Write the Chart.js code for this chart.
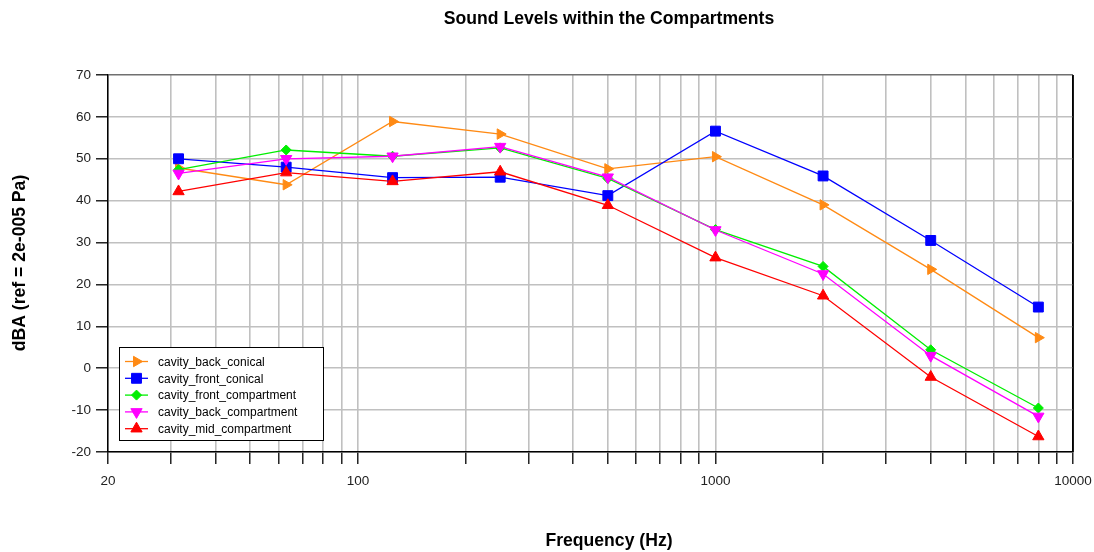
<!DOCTYPE html>
<html>
<head>
<meta charset="utf-8">
<script src="https://cdn.jsdelivr.net/npm/chart.js@4/dist/chart.umd.min.js"></script>
<style>
  body { margin: 0; background: #fff; }
  #wrap { width: 1094px; height: 552px; }
</style>
</head>
<body>
<div id="wrap"><canvas id="chart" width="1094" height="552"></canvas></div>
<script>
// --- Data ---
const freqs = [31.5, 63, 125, 250, 500, 1000, 2000, 4000, 8000];
const backConical      = [47.8, 43.8, 58.9, 55.9, 47.6, 50.5, 39.0, 23.6, 7.3];
const frontConical     = [50.0, 48.0, 45.5, 45.6, 41.2, 56.6, 45.9, 30.5, 14.6];
const frontCompartment = [47.4, 52.1, 50.6, 52.6, 45.3, 33.1, 24.3, 4.4, -9.5];
const backCompartment  = [46.5, 50.0, 50.6, 52.9, 45.6, 33.0, 22.5, 3.0, -11.5];
const midCompartment   = [42.2, 46.7, 44.6, 46.9, 38.9, 26.4, 17.3, -2.1, -16.3];

const seriesNames = ['cavity_back_conical', 'cavity_front_conical', 'cavity_front_compartment',
                     'cavity_back_compartment', 'cavity_mid_compartment'];
const xTickLabels = [20, 100, 1000, 10000];

const FONT = '"Liberation Sans", Arial, sans-serif';

// --- Series styles ---
const styles = [
    { color: '#ff8a14', pointStyle: 'triangle', rotation: 90,  radius: 6 },
    { color: '#0000ff', pointStyle: 'rect',     rotation: 0,   radius: 7 },
    { color: '#00ee00', pointStyle: 'rectRot',  rotation: 0,   radius: 5 },
    { color: '#ff00ff', pointStyle: 'triangle', rotation: 180, radius: 6.5 },
    { color: '#ff0000', pointStyle: 'triangle', rotation: 0,   radius: 6.5 }
];
const seriesValues = [backConical, frontConical, frontCompartment, backCompartment, midCompartment];

const datasets = seriesValues.map((vals, i) => ({
    label: seriesNames[i],
    data: vals.map((v, j) => ({ x: freqs[j], y: v })),
    borderColor: styles[i].color,
    backgroundColor: styles[i].color,
    borderWidth: 1.3,
    pointStyle: styles[i].pointStyle,
    rotation: styles[i].rotation,
    pointRadius: styles[i].radius,
    pointBorderWidth: 1,
    tension: 0,
    order: seriesValues.length - i
}));

// log grid values 20..10000 (1-2-3...9 per decade)
function logGrid(min, max) {
    const out = [];
    for (let d = 1; d <= 10000; d *= 10) {
        for (let m = 1; m <= 9; m++) {
            const v = m * d;
            if (v >= min && v <= max) out.push(v);
        }
    }
    return out;
}

// --- Plugins: titles, frame, legend ---
const decorations = {
    id: 'decorations',
    afterDraw(chart) {
        const { ctx, chartArea } = chart;
        ctx.save();
        // right border
        ctx.strokeStyle = '#000';
        ctx.lineWidth = 1.5;
        ctx.beginPath();
        ctx.moveTo(chartArea.right, chartArea.top);
        ctx.lineTo(chartArea.right, chartArea.bottom);
        ctx.stroke();

        // titles
        ctx.fillStyle = '#000';
        ctx.font = 'bold 17.6px ' + FONT;
        ctx.textAlign = 'center';
        ctx.textBaseline = 'middle';
        ctx.fillText('Sound Levels within the Compartments', 609, 19);
        ctx.fillText('Frequency (Hz)', 609, 541);
        ctx.save();
        ctx.translate(20, 263);
        ctx.rotate(-Math.PI / 2);
        ctx.fillText('dBA (ref = 2e-005 Pa)', 0, 0);
        ctx.restore();

        // legend box
        const lx = 119, ly = 347, lw = 204, lh = 93;
        ctx.fillStyle = '#fff';
        ctx.fillRect(lx, ly, lw, lh);
        ctx.strokeStyle = '#000';
        ctx.lineWidth = 1;
        ctx.strokeRect(lx + 0.5, ly + 0.5, lw, lh);
        ctx.font = '12px ' + FONT;
        ctx.textAlign = 'left';
        chart.data.datasets.forEach((ds, i) => {
            const y = 361.5 + i * 16.8;
            ctx.strokeStyle = ds.borderColor;
            ctx.lineWidth = 1.3;
            ctx.beginPath();
            ctx.moveTo(125, y);
            ctx.lineTo(148, y);
            ctx.stroke();
            ctx.fillStyle = ds.backgroundColor;
            ctx.lineWidth = 1;
            Chart.helpers.drawPoint(ctx, {
                pointStyle: ds.pointStyle,
                rotation: ds.rotation,
                radius: ds.pointRadius,
                borderWidth: 1
            }, 136.5, y);
            ctx.fillStyle = '#000';
            ctx.fillText(ds.label, 158, y + 1);
        });
        ctx.restore();
    }
};

new Chart(document.getElementById('chart'), {
    type: 'line',
    data: { datasets },
    options: {
        responsive: false,
        animation: false,
        layout: { padding: { left: 48, right: 21, top: 75, bottom: 60 } },
        plugins: {
            legend: { display: false },
            title: { display: false },
            tooltip: { enabled: false }
        },
        scales: {
            x: {
                type: 'logarithmic',
                min: 20,
                max: 10000,
                afterBuildTicks(scale) {
                    scale.ticks = logGrid(20, 10000).map(v => ({ value: v }));
                },
                afterFit(scale) {
                    scale.height = 40;
                    scale.paddingLeft = 0;
                    scale.paddingRight = 0;
                },
                ticks: {
                    autoSkip: false,
                    maxRotation: 0,
                    padding: 9,
                    color: '#222',
                    font: { family: FONT, size: 13.5 },
                    callback: (v) => xTickLabels.includes(v) ? String(v) : ''
                },
                grid: {
                    color: (c) => c.tick && c.tick.value === 10000 ? '#000' : '#c0c0c0',
                    lineWidth: 1.6,
                    tickLength: 12,
                    tickColor: '#000',
                    tickWidth: 1.3
                },
                border: { display: true, color: '#000', width: 1.5 }
            },
            y: {
                min: -20,
                max: 70,
                afterFit(scale) { scale.width = 60; },
                ticks: {
                    stepSize: 10,
                    padding: 5,
                    color: '#222',
                    font: { family: FONT, size: 13.5 }
                },
                grid: {
                    color: (c) => c.tick && c.tick.value === 70 ? '#707070' : '#c0c0c0',
                    lineWidth: 1.6,
                    tickLength: 12,
                    tickColor: '#000',
                    tickWidth: 1.3
                },
                border: { display: true, color: '#000', width: 1.5 }
            }
        }
    },
    plugins: [decorations]
});
</script>
</body>
</html>
